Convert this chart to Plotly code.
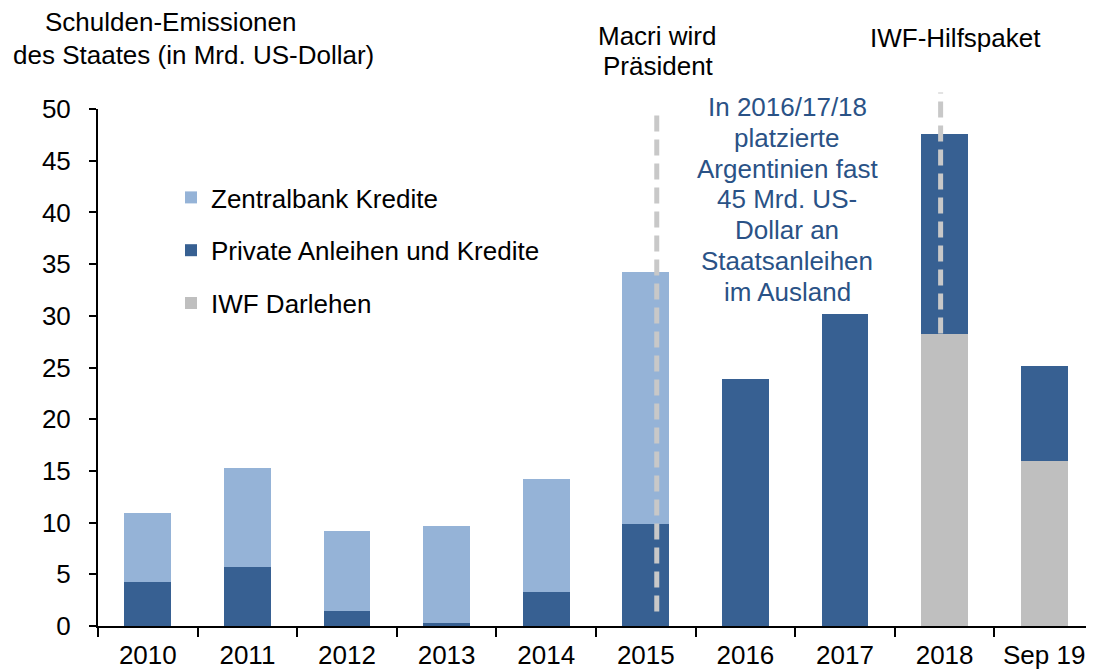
import plotly.graph_objects as go

categories = ["2010", "2011", "2012", "2013", "2014", "2015", "2016", "2017", "2018", "Sep 19"]
iwf_darlehen = [0, 0, 0, 0, 0, 0, 0, 0, 28.2, 16.0]
private_anleihen = [4.3, 5.7, 1.45, 0.3, 3.3, 9.9, 23.9, 30.2, 19.4, 9.1]
zentralbank = [6.6, 9.6, 7.75, 9.4, 10.9, 24.3, 0, 0, 0, 0]

series_names = ["IWF Darlehen", "Private Anleihen und Kredite", "Zentralbank Kredite"]
series_values = [iwf_darlehen, private_anleihen, zentralbank]
series_colors = ["#BFBFBF", "#376092", "#95B3D7"]
legend_ranks = [3, 2, 1]

y_ticks = [0, 5, 10, 15, 20, 25, 30, 35, 40, 45, 50]

FONT = "Liberation Sans, Arial, sans-serif"
FS = 26

# the page body has an 8px default margin; work in page pixels and convert
OFF = 8
PL, PR, PT, PB = 98, 1094, 109, 626  # plot area in page pixels
FIG_W, FIG_H = 1094 - OFF, 670 - OFF


def px_x(px):
    return (px - PL) / (PR - PL)


def px_y(py):
    return (PB - py) / (PB - PT)


fig = go.Figure()
for name, vals, col, rank in zip(series_names, series_values, series_colors, legend_ranks):
    fig.add_trace(go.Bar(
        x=categories, y=vals, name=name, legendgroup=name, legendrank=rank,
        marker=dict(color=col, line=dict(width=0)),
        width=0.47,
    ))

annotation_lines = ["In 2016/17/18", "platzierte", "Argentinien fast", "45 Mrd. US-",
                    "Dollar an", "Staatsanleihen", "im Ausland"]

annotations = []
for i, line in enumerate(annotation_lines):
    annotations.append(dict(
        text=line, xref="paper", yref="paper", x=px_x(787),
        y=px_y(107 + i * 30.8), showarrow=False,
        xanchor="center", yanchor="middle",
        font=dict(family=FONT, size=FS, color="#2A5286"),
    ))


def pix_ann(text, px, py):
    return dict(text=text, xref="paper", yref="paper", x=px_x(px), y=px_y(py),
                showarrow=False, xanchor="center", yanchor="middle",
                font=dict(family=FONT, size=FS, color="black"))


annotations += [
    pix_ann("Schulden-Emissionen", 170, 22),
    pix_ann("des Staates (in Mrd. US-Dollar)", 193, 55),
    pix_ann("Macri wird", 657, 36),
    pix_ann("Präsident", 658, 66),
    pix_ann("IWF-Hilfspaket", 955, 38),
]

dash_style = dict(color="#C8C8C8", width=5, dash="16px,8px")
shapes = [
    dict(type="line", xref="x", yref="paper", x0=5.11, x1=5.11, y0=1.4 / 50, y1=49.4 / 50, line=dash_style),
    dict(type="line", xref="x", yref="paper", x0=7.96, x1=7.96, y0=28.3 / 50, y1=51.6 / 50, line=dash_style),
]

fig.update_layout(
    barmode="stack",
    width=FIG_W, height=FIG_H,
    margin=dict(l=PL - OFF, r=FIG_W - (PR - OFF), t=PT - OFF, b=FIG_H - (PB - OFF)),
    paper_bgcolor="white", plot_bgcolor="white",
    font=dict(family=FONT, size=FS, color="black"),
    showlegend=True,
    legend=dict(
        x=px_x(171), y=px_y(174), xanchor="left", yanchor="top",
        traceorder="grouped", tracegroupgap=16,
        font=dict(family=FONT, size=FS, color="black"),
        bgcolor="rgba(0,0,0,0)",
    ),
    annotations=annotations,
    shapes=shapes,
    bargap=0.53,
)
fig.update_xaxes(
    type="category", range=[-0.5, 9.5], showline=True, linecolor="black", linewidth=2,
    ticks="outside", tickson="boundaries", ticklen=9, tickwidth=2, tickcolor="black",
    showgrid=False, ticklabelstandoff=5, automargin=False,
    tickfont=dict(family=FONT, size=FS, color="black"),
)
fig.update_yaxes(
    range=[0, 50], tickvals=y_ticks, showline=True, linecolor="black", linewidth=2,
    ticks="outside", ticklen=7, tickwidth=2, tickcolor="black",
    showgrid=False, zeroline=False, ticklabelstandoff=13, automargin=False,
    tickfont=dict(family=FONT, size=FS, color="black"),
)

fig.write_html("out.html")
